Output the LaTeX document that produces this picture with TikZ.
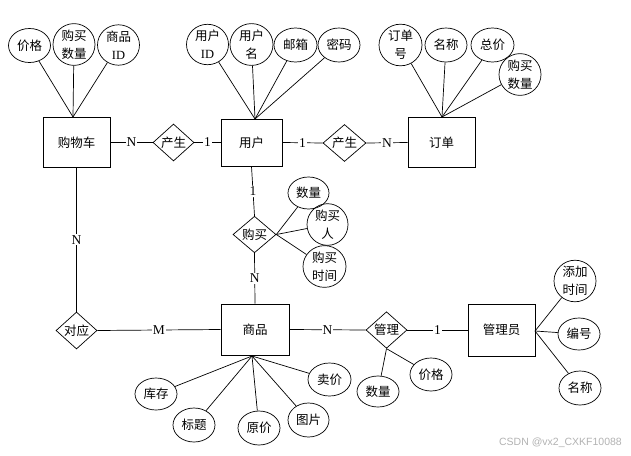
\documentclass[tikz,border=0pt]{standalone}
\usepackage{fontspec}
\setmainfont{Liberation Serif}
\newfontfamily\cjk{Noto Sans CJK SC}
\newfontfamily\wmfont{Liberation Sans}
\usetikzlibrary{shapes.geometric}
\tikzset{
  ent/.style={draw, line width=0.9pt, minimum width=67pt, minimum height=50pt, inner sep=0pt, font=\cjk\fontsize{12.5}{14}\selectfont},
  rel/.style={draw, diamond, line width=0.7pt, minimum width=42pt, minimum height=37pt, inner sep=0pt, font=\cjk\fontsize{12.5}{14}\selectfont},
  attr/.style={draw, ellipse, line width=0.7pt, minimum width=42pt, minimum height=34pt, inner sep=0pt, align=center, font=\cjk\fontsize{12.5}{18}\selectfont},
  conn/.style={line width=0.7pt},
  card/.style={midway, fill=white, inner sep=1pt, font=\fontsize{13.5}{14}\selectfont}
}
\begin{document}
\begin{tikzpicture}[x=1pt,y=-1pt]
\useasboundingbox (0,0) rectangle (631,455);
% entities
\node[ent] (cart) at (76.5,142.5) {购物车};
\node[ent, minimum width=61pt, minimum height=47pt] (user) at (251.5,142.5) {用户};
\node[ent] (order) at (441.5,142.5) {订单};
\node[ent, minimum width=68pt, minimum height=51pt] (goods) at (255,329.5) {商品};
\node[ent, minimum width=67pt, minimum height=52pt] (admin) at (501.5,330) {管理员};
% relations
\node[rel, minimum width=41pt] (p1) at (173.5,142.5) {产生};
\node[rel, minimum width=43pt] (p2) at (344.5,143) {产生};
\node[rel, minimum width=43pt, minimum height=35pt] (buy) at (254.5,234.5) {购买};
\node[rel, minimum width=41pt] (dui) at (76.5,330.5) {对应};
\node[rel, minimum width=41pt, minimum height=36pt] (mg) at (386.5,330) {管理};
% cart attributes
\node[attr] (c1) at (29.5,45.5) {价格};
\node[attr] (c2) at (74,44.5) {购买\\数量};
\node[attr] (c3) at (118.5,45) {商品\\{\rmfamily ID}};
% user attributes
\node[attr] (u1) at (207.5,44.5) {用户\\{\rmfamily ID}};
\node[attr, minimum width=43pt] (u2) at (251.5,44.5) {用户\\名};
\node[attr, minimum width=43pt] (u3) at (295.5,45) {邮箱};
\node[attr] (u4) at (339,45) {密码};
% order attributes
\node[attr, minimum width=43pt] (o1) at (400.5,45) {订单\\号};
\node[attr] (o2) at (446,45) {名称};
\node[attr, minimum width=43pt] (o3) at (492.5,45) {总价};
\node[attr] (o4) at (520,74.5) {购买\\数量};
% buy attributes
\node[attr, minimum width=41pt, minimum height=32pt] (b1) at (308.5,193) {数量};
\node[attr, minimum width=41pt, minimum height=35pt] (b2) at (327.5,224.5) {购买\\人};
\node[attr, minimum width=43pt, minimum height=33pt] (b3) at (324.5,266.5) {购买\\时间};
% goods attributes
\node[attr, minimum height=32pt] (g1) at (156,394) {库存};
\node[attr] (g2) at (194,425) {标题};
\node[attr] (g3) at (259,428) {原价};
\node[attr, minimum width=41pt] (g4) at (308.5,420) {图片};
\node[attr, minimum width=43pt, minimum height=33pt] (g5) at (329.5,379.5) {卖价};
% manage attributes
\node[attr, minimum height=31pt] (m1) at (378,391.5) {数量};
\node[attr, minimum height=33pt] (m2) at (431,374.5) {价格};
% admin attributes
\node[attr] (a1) at (575,281) {添加\\时间};
\node[attr, minimum height=32pt] (a2) at (579,334) {编号};
\node[attr] (a3) at (580,388) {名称};
% attribute links
\coordinate (cartTop) at (73,117);
\coordinate (userTop) at (255,119);
\coordinate (orderTop) at (442,117);
\coordinate (goodsBot) at (252,356);
\coordinate (adminE) at (535,331);
\foreach \a in {c1,c2,c3} \draw[conn] (\a) -- (cartTop);
\foreach \a in {u1,u2,u3,u4} \draw[conn] (\a) -- (userTop);
\foreach \a in {o1,o2,o3,o4} \draw[conn] (\a) -- (orderTop);
\foreach \a in {b1,b2,b3} \draw[conn] (\a) -- (buy.east);
\foreach \a in {g1,g2,g3,g4,g5} \draw[conn] (\a) -- (goodsBot);
\foreach \a in {m1,m2} \draw[conn] (\a) -- (mg.south);
\foreach \a in {a1,a2,a3} \draw[conn] (\a) -- (adminE);
% relationship links
\draw[conn] (cart.east) -- node[card]{N} (p1.west);
\draw[conn] (p1.east) -- node[card]{1} (user.west);
\draw[conn] (user.east) -- node[card]{1} (p2.west);
\draw[conn] (p2.east) -- node[card]{N} (order.west);
\draw[conn] (user.south) -- node[card]{1} (buy.north);
\draw[conn] (buy.south) -- node[card]{N} (goods.north);
\draw[conn] (cart.south) -- node[card]{N} (dui.north);
\draw[conn] (dui.east) -- node[card]{M} (goods.west);
\draw[conn] (goods.east) -- node[card]{N} (mg.west);
\draw[conn] (mg.east) -- node[card]{1} (admin.west);
% watermark
\node[anchor=east, inner sep=0pt, text=black!30, font=\wmfont\fontsize{10.5}{12}\selectfont] (wm) at (622,443) {CSDN @vx2\_CXKF10088};
\end{tikzpicture}
\end{document}
